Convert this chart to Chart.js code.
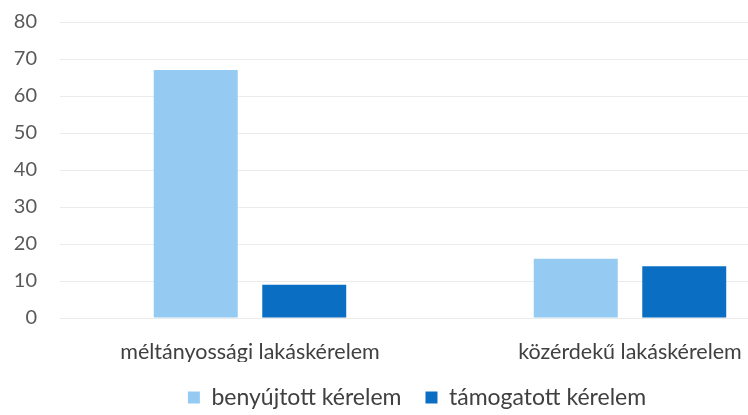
<!DOCTYPE html>
<html>
<head>
<meta charset="utf-8">
<script src="https://cdn.jsdelivr.net/npm/chart.js@4"></script>
<style>
  html, body { margin: 0; padding: 0; background: #fff; overflow: hidden; }
  #wrap { position: relative; width: 860px; height: 419px; }
</style>
</head>
<body>
<div id="wrap"><canvas id="kerelmek"></canvas></div>
<script>
'use strict';

const categories = ['méltányossági lakáskérelem', 'közérdekű lakáskérelem'];
const seriesNames = ['benyújtott kérelem', 'támogatott kérelem'];
const benyujtott = [67, 16];
const tamogatott = [9, 14];
const yTicks = [0, 10, 20, 30, 40, 50, 60, 70, 80];

Chart.defaults.font.family = 'Lato, "Open Sans", sans-serif';
Chart.defaults.color = '#595959';

let ctx = document.getElementById('kerelmek').getContext('2d');
let chart = new Chart(ctx, {
    type: 'bar',
    data: {
        labels: categories,
        datasets: [{
            label: seriesNames[0],
            data: benyujtott,
            backgroundColor: '#95cbf3'
        }, {
            label: seriesNames[1],
            data: tamogatott,
            backgroundColor: '#0a6fc2'
        }]
    },
    options: {
        responsive: true,
        maintainAspectRatio: false,
        animation: false,
        categoryPercentage: 0.571,
        barPercentage: 0.774,
        layout: {
            padding: { left: 14, right: 40, top: 22, bottom: 0 }
        },
        scales: {
            x: {
                grid: { display: false, drawTicks: false },
                border: { display: false },
                ticks: { padding: 23, color: '#404040', font: { size: 21.5, lineHeight: 1 } },
                afterFit: (scale) => { scale.height = 44; }
            },
            y: {
                min: 0,
                max: 80,
                afterBuildTicks: (axis) => {
                    axis.ticks = yTicks.map(v => ({ value: v }));
                },
                grid: { color: '#ebebeb', drawTicks: false },
                border: { display: false },
                ticks: { padding: 23, font: { size: 20 } },
                afterFit: (scale) => {
                    scale.width = 46;
                    scale.paddingTop = 12;
                }
            }
        },
        plugins: {
            legend: {
                position: 'bottom',
                labels: {
                    boxWidth: 12,
                    boxHeight: 12,
                    padding: 24,
                    color: '#404040',
                    font: { size: 23 }
                }
            },
            tooltip: { enabled: false }
        }
    }
});
</script>
</body>
</html>
